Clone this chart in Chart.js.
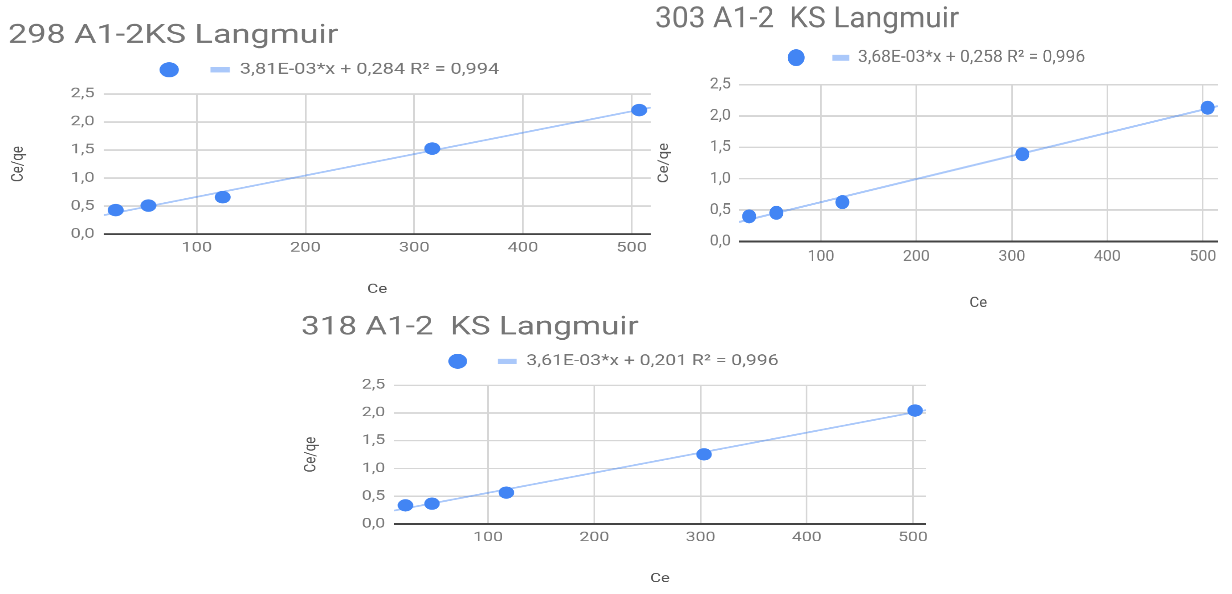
<!DOCTYPE html>
<html>
<head>
<meta charset="utf-8">
<title>Langmuir A1-2 KS</title>
<script src="https://cdn.jsdelivr.net/npm/chart.js@4.4.1/dist/chart.umd.min.js"></script>
<style>
    html, body { margin: 0; padding: 0; background: #fff; overflow: hidden; }
    body { width: 1232px; height: 594px; position: relative; }
    .panel { position: absolute; width: 566px; height: 318px; transform-origin: 0 0; }
    .panel canvas { display: block; }
</style>
</head>
<body>
<div class="panel" id="p298"><canvas id="c298" width="566" height="318"></canvas></div>
<div class="panel" id="p303"><canvas id="c303" width="566" height="318"></canvas></div>
<div class="panel" id="p318"><canvas id="c318" width="566" height="318"></canvas></div>
<script>
// --- 1. DATA ---
const ceTicks = [100, 200, 300, 400, 500];
const ceqeTicks = [0, 0.5, 1.0, 1.5, 2.0, 2.5];

const titles = ['298 A1-2KS Langmuir', '303 A1-2  KS Langmuir', '318 A1-2  KS Langmuir'];
const trendLabels = [
    '3,81E-03*x + 0,284 R² = 0,994',
    '3,68E-03*x + 0,258 R² = 0,996',
    '3,61E-03*x + 0,201 R² = 0,996'
];

const ce298 = [25.5, 55.6, 123.9, 316.6, 506.9];
const ceqe298 = [0.43, 0.51, 0.66, 1.525, 2.21];

const ce303 = [24.9, 53.4, 122.5, 311, 505];
const ceqe303 = [0.40, 0.456, 0.626, 1.39, 2.13];

const ce318 = [22.2, 47.2, 117.2, 303.3, 502];
const ceqe318 = [0.337, 0.367, 0.566, 1.253, 2.042];

// trendline coefficients from the legend
const slopes = [0.00381, 0.00368, 0.00361];
const intercepts = [0.284, 0.258, 0.201];

// x axis window of each chart
const ceMin = [14.5, 14.1, 11.5];
const ceMax = [517.5, 515.7, 512.2];

// --- 2. LAYOUT AND COLORS ---
const COLORS = {
    point: '#4285F4',
    trend: 'rgba(66, 133, 244, 0.45)',
    title: '#757575',
    legend: '#757575',
    ticks: '#7a7a7a',
    axisTitle: '#555555',
    grid: '#d6d6d6',
    baseline: '#444444'
};

// each panel is drawn at one size and stretched like the source image
const PANELS = [
    { id: 'c298', box: 'p298', left: 8.3, top: 19.7, sx: 1.1396, sy: 0.889 },
    { id: 'c303', box: 'p303', left: 655.2, top: 1.5, sx: 0.998, sy: 0.9937 },
    { id: 'c318', box: 'p318', left: 300.9, top: 312, sx: 1.108, sy: 0.88 }
];

const FONT = 'Roboto';

function toPoints(xs, ys) {
    return xs.map((x, i) => ({ x: x, y: ys[i] }));
}

function trendPoints(i) {
    return [ceMin[i], ceMax[i]].map(x => ({ x: x, y: slopes[i] * x + intercepts[i] }));
}

// pushes the plot down a bit below the legend
const legendGap = {
    id: 'legendGap',
    beforeInit(chart) {
        const fit = chart.legend.fit;
        chart.legend.fit = function () {
            fit.bind(chart.legend)();
            this.height += 8.25;
        };
    }
};

// --- 3. CHARTS ---
function buildChart(panel, i, xs, ys) {
    const ctx = document.getElementById(panel.id).getContext('2d');

    const chart = new Chart(ctx, {
        type: 'scatter',
        data: {
            datasets: [{
                label: '',
                data: toPoints(xs, ys),
                backgroundColor: COLORS.point,
                borderColor: COLORS.point,
                pointRadius: 7,
                pointHoverRadius: 7,
                pointBorderWidth: 0,
                pointStyle: 'circle'
            }, {
                type: 'line',
                label: trendLabels[i],
                data: trendPoints(i),
                borderColor: COLORS.trend,
                borderWidth: 2,
                pointRadius: 0,
                pointStyle: 'line',
                fill: false
            }]
        },
        options: {
            responsive: false,
            animation: false,
            devicePixelRatio: 2,
            layout: {
                autoPadding: false,
                padding: { left: 0, right: 2, top: 0, bottom: 6 }
            },
            scales: {
                x: {
                    type: 'linear',
                    min: ceMin[i],
                    max: ceMax[i],
                    afterBuildTicks: s => { s.ticks = ceTicks.map(v => ({ value: v })); },
                    afterFit: s => {
                        s.height = 71;
                        s.paddingLeft = 0;
                        s.paddingRight = 0;
                    },
                    grid: { color: COLORS.grid, lineWidth: 1.5, drawTicks: false },
                    border: { display: false },
                    ticks: {
                        padding: 6,
                        color: COLORS.ticks,
                        font: { family: FONT, size: 16 },
                        callback: v => String(v)
                    },
                    title: {
                        display: true,
                        text: 'Ce',
                        color: COLORS.axisTitle,
                        font: { family: FONT, size: 15 },
                        padding: 0
                    }
                },
                y: {
                    min: 0,
                    max: 2.5,
                    afterBuildTicks: s => { s.ticks = ceqeTicks.map(v => ({ value: v })); },
                    afterFit: s => { s.width = 84; },
                    grid: {
                        drawTicks: false,
                        color: c => c.tick && c.tick.value === 0 ? COLORS.baseline : COLORS.grid,
                        lineWidth: c => c.tick && c.tick.value === 0 ? 2 : 1.5
                    },
                    border: { display: false },
                    ticks: {
                        padding: 8,
                        color: COLORS.ticks,
                        font: { family: FONT, size: 16 },
                        callback: v => v.toFixed(1).replace('.', ',')
                    },
                    title: {
                        display: true,
                        text: 'Ce/qe',
                        color: COLORS.axisTitle,
                        font: { family: FONT, size: 15 },
                        padding: 0
                    }
                }
            },
            plugins: {
                title: {
                    display: true,
                    text: titles[i],
                    align: 'start',
                    color: COLORS.title,
                    font: { family: FONT, size: 30, weight: 'normal', lineHeight: 1 },
                    padding: { top: 3, bottom: -4.75 }
                },
                legend: {
                    display: true,
                    position: 'top',
                    labels: {
                        usePointStyle: true,
                        boxWidth: 17,
                        boxHeight: 12,
                        padding: 19,
                        color: COLORS.legend,
                        font: { family: FONT, size: 17.5 },
                        generateLabels: chart => {
                            const items = Chart.defaults.plugins.legend.labels.generateLabels(chart);
                            items[0].fillStyle = COLORS.point;
                            items[0].strokeStyle = COLORS.point;
                            items[0].lineWidth = 0;
                            items[0].pointStyle = 'circle';
                            items[1].strokeStyle = COLORS.trend;
                            items[1].lineWidth = 6;
                            items[1].pointStyle = 'line';
                            return items;
                        }
                    }
                },
                tooltip: { enabled: false }
            }
        },
        plugins: [legendGap]
    });

    // stretch the finished panel into place
    const box = document.getElementById(panel.box);
    box.style.left = panel.left + 'px';
    box.style.top = panel.top + 'px';
    box.style.transform = `scale(${panel.sx}, ${panel.sy})`;
    return chart;
}

document.addEventListener('DOMContentLoaded', () => {
    buildChart(PANELS[0], 0, ce298, ceqe298);
    buildChart(PANELS[1], 1, ce303, ceqe303);
    buildChart(PANELS[2], 2, ce318, ceqe318);
});
</script>
</body>
</html>
